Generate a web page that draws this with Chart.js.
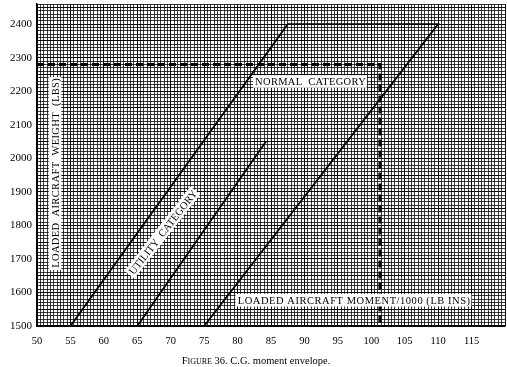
<!DOCTYPE html>
<html>
<head>
<meta charset="utf-8">
<script src="https://cdn.jsdelivr.net/npm/chart.js@4.4.1/dist/chart.umd.min.js"></script>
<style>
  html, body { margin: 0; padding: 0; background: #fff; }
  #wrap { width: 507px; height: 367px; }
</style>
</head>
<body>
<div id="wrap"><canvas id="chart"></canvas></div>
<script>
// Values (moment/1000 in lb-ins, weight in lbs)
const envelopeX = [55, 87.5, 110, 75];
const envelopeY = [1500, 2400, 2400, 1500];
const utilityX = [65, 84.25];
const utilityY = [1500, 2050];
const limitX = [50, 101.3, 101.3];
const limitY = [2280, 2280, 1500];
const xTickLabels = [50, 55, 60, 65, 70, 75, 80, 85, 90, 95, 100, 105, 110, 115];
const yTickLabels = [1500, 1600, 1700, 1800, 1900, 2000, 2100, 2200, 2300, 2400];

const SERIF = '"Liberation Serif", "DejaVu Serif", serif';

function toPoints(xs, ys) {
  return xs.map((v, i) => ({ x: v, y: ys[i] }));
}

// text labels on white boxes, placed in data units
const annotations = {
  id: 'annotations',
  afterDatasetsDraw(chart) {
    const { ctx, scales: { x, y } } = chart;

    function boxText(text, vx, vy, angle, size, targetWidth) {
      ctx.save();
      ctx.font = size + 'px ' + SERIF;
      ctx.letterSpacing = '0px';
      const raw = ctx.measureText(text).width;
      const ls = (targetWidth - raw) / text.length;
      ctx.letterSpacing = ls.toFixed(2) + 'px';
      const w = ctx.measureText(text).width;
      ctx.translate(x.getPixelForValue(vx), y.getPixelForValue(vy));
      ctx.rotate(angle * Math.PI / 180);
      ctx.fillStyle = '#fff';
      ctx.fillRect(-w / 2 - 2, -size * 0.6, w + 3, size * 1.2);
      ctx.fillStyle = '#000';
      ctx.textAlign = 'center';
      ctx.textBaseline = 'middle';
      ctx.fillText(text, ls / 2, 1);
      ctx.restore();
    }

    boxText('NORMAL  CATEGORY', 90.9, 2229, 0, 10.5, 111);
    boxText('LOADED AIRCRAFT MOMENT/1000 (LB INS)', 97.4, 1577, 0, 10.5, 233);
    boxText('LOADED  AIRCRAFT  WEIGHT  (LBS)', 52.7, 1956, -90, 10.5, 190);
    boxText('UTILITY  CATEGORY', 68.8, 1780, -52, 10.5, 104);

    // caption
    ctx.save();
    ctx.fillStyle = '#000';
    ctx.textBaseline = 'alphabetic';
    ctx.textAlign = 'left';
    const parts = [['F', 10.5], ['IGURE', 8], [' 36. C.G. moment envelope.', 10.5]];
    let total = 0;
    parts.forEach(([t, s]) => { ctx.font = s + 'px ' + SERIF; total += ctx.measureText(t).width; });
    let cx = 256 - total / 2;
    parts.forEach(([t, s]) => {
      ctx.font = s + 'px ' + SERIF;
      ctx.fillText(t, cx, 364);
      cx += ctx.measureText(t).width;
    });
    ctx.restore();
  }
};

function gridColor(c, step) {
  const v = c.tick ? c.tick.value : 0;
  const r = v / step;
  return Math.abs(r - Math.round(r)) < 1e-6 ? 'rgba(0,0,0,0.95)' : 'rgba(0,0,0,0.76)';
}

new Chart(document.getElementById('chart'), {
  type: 'scatter',
  data: {
    datasets: [
      {
        label: 'Normal category',
        data: toPoints(envelopeX, envelopeY),
        showLine: true,
        borderColor: '#000',
        borderWidth: 1.8,
        pointRadius: 0,
        fill: false
      },
      {
        label: 'Utility category',
        data: toPoints(utilityX, utilityY),
        showLine: true,
        borderColor: '#000',
        borderWidth: 1.8,
        pointRadius: 0
      },
      {
        label: 'Limit',
        data: toPoints(limitX, limitY),
        showLine: true,
        borderColor: '#000',
        borderWidth: 3,
        borderDash: [7, 4],
        pointRadius: 0
      }
    ]
  },
  options: {
    responsive: true,
    maintainAspectRatio: false,
    animation: false,
    layout: { padding: 0 },
    plugins: {
      legend: { display: false },
      tooltip: { enabled: false }
    },
    scales: {
      x: {
        type: 'linear',
        min: 50,
        max: 120,
        afterFit: s => {
          s.height = 41;
          s.paddingLeft = 0;
          s.paddingRight = 2;
        },
        border: { display: true, color: '#000', width: 1.5 },
        grid: {
          drawTicks: false,
          color: c => gridColor(c, 5),
          lineWidth: 1
        },
        ticks: {
          stepSize: 0.5,
          autoSkip: false,
          maxRotation: 0,
          padding: 9,
          color: '#000',
          font: { family: SERIF, size: 10.5 },
          callback: v => xTickLabels.includes(v) ? String(v) : ''
        }
      },
      y: {
        type: 'linear',
        min: 1500,
        max: 2460,
        afterFit: s => {
          s.width = 37;
          s.paddingTop = 4;
          s.paddingBottom = 0;
        },
        border: { display: true, color: '#000', width: 1.5 },
        grid: {
          drawTicks: false,
          color: c => gridColor(c, 50),
          lineWidth: 1
        },
        ticks: {
          stepSize: 10,
          autoSkip: false,
          padding: 5,
          color: '#000',
          font: { family: SERIF, size: 11 },
          callback: v => yTickLabels.includes(v) ? String(v) : ''
        }
      }
    }
  },
  plugins: [annotations]
});
</script>
</body>
</html>
